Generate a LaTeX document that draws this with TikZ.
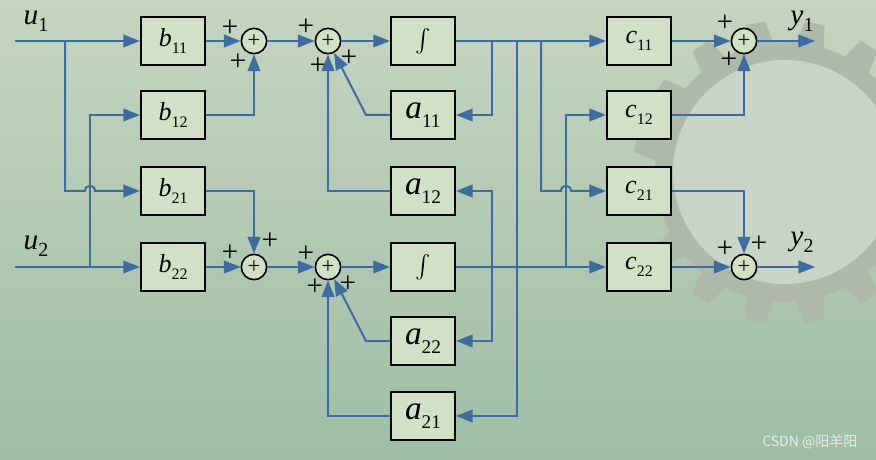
\documentclass[tikz,border=0pt]{standalone}
\usepackage{amsmath}
\usepackage{fontspec}
\setmainfont{Liberation Serif}
\newfontfamily\cjk{Noto Sans CJK SC}
\usetikzlibrary{arrows.meta}

\definecolor{bgtop}{RGB}{198,212,192}
\definecolor{bgbot}{RGB}{158,190,166}
\definecolor{gearring}{RGB}{174,185,171}
\definecolor{gearhole}{RGB}{200,212,197}
\definecolor{boxfill}{RGB}{210,225,198}
\definecolor{wireblue}{RGB}{62,108,158}

% gain label: letter with upright subscript
\newcommand{\gain}[3][12]{\textit{#2}\raisebox{-0.55ex}{\fontsize{#1}{#1}\selectfont #3}}

\begin{document}
\begin{tikzpicture}[x=0.75pt, y=-0.75pt,
      blk/.style={draw, fill=boxfill, line width=1.6pt, minimum width=48pt,
                  minimum height=35.5pt, inner sep=0pt, font=\fontsize{19.5}{20}\selectfont},
      ablk/.style={blk, font=\fontsize{25}{26}\selectfont},
      sum/.style={circle, draw, fill=boxfill, line width=1.2pt, minimum size=19pt,
                  inner sep=0pt, font=\fontsize{17}{17}\selectfont},
      sgn/.style={inner sep=0pt, font=\fontsize{22}{22}\selectfont},
      sig/.style={inner sep=0pt, font=\fontsize{22}{22}\selectfont},
      wire/.style={draw=wireblue, line width=1.5pt},
      >={Triangle[length=12.5pt, width=9.5pt]}]
    % background
    \shade[top color=bgtop, bottom color=bgbot] (0,0) rectangle (876,460);
    \begin{scope}
      \clip (0,0) rectangle (876,460);
      \begin{scope}[shift={(785,172)}]
        \fill[gearring] (0:130) \foreach \k in {0,...,15} {
          -- (\k*22.5+5:130) -- (\k*22.5+7.5:152) -- (\k*22.5+15:152)
          -- (\k*22.5+17.5:130) -- (\k*22.5+22.5:130)} -- cycle;
        \fill[gearhole] (0,0) circle[radius=112];
      \end{scope}
    \end{scope}
    \useasboundingbox (0,0) rectangle (876,460);

    % inputs and outputs
    \coordinate (u1) at (15,41);
    \coordinate (u2) at (15,267);
    \coordinate (y1) at (815,41);
    \coordinate (y2) at (815,267);
    \node[sig] (u1lbl) at (36,21) {\gain[15]{u}{1}};
    \node[sig] (u2lbl) at (36,246) {\gain[15]{u}{2}};
    \node[sig] (y1lbl) at (802,21) {\gain[15]{y}{1}};
    \node[sig] (y2lbl) at (802,242) {\gain[15]{y}{2}};

    % input gains
    \node[blk] (b11) at (173,41) {\gain{b}{11}};
    \node[blk] (b12) at (173,115) {\gain{b}{12}};
    \node[blk] (b21) at (173,191) {\gain{b}{21}};
    \node[blk] (b22) at (173,267) {\gain{b}{22}};

    % summing points
    \node[sum] (s1) at (254,41) {+};
    \node[sum] (s2) at (254,267) {+};
    \node[sum] (s3) at (328,41) {+};
    \node[sum] (s4) at (328,267) {+};
    \node[sum] (o1) at (744,41) {+};
    \node[sum] (o2) at (744,267) {+};

    % integrators and feedback
    \node[blk, font=\fontsize{17}{18}\selectfont] (i1) at (423,41) {$\int$};
    \node[blk, font=\fontsize{17}{18}\selectfont] (i2) at (423,267) {$\int$};
    \node[ablk] (a11) at (423,115) {\gain[14.5]{a}{11}};
    \node[ablk] (a12) at (423,191) {\gain[14.5]{a}{12}};
    \node[ablk] (a22) at (423,341) {\gain[14.5]{a}{22}};
    \node[ablk] (a21) at (423,416) {\gain[14.5]{a}{21}};

    % output gains
    \node[blk] (c11) at (639,41) {\gain{c}{11}};
    \node[blk] (c12) at (639,115) {\gain{c}{12}};
    \node[blk] (c21) at (639,191) {\gain{c}{21}};
    \node[blk] (c22) at (639,267) {\gain{c}{22}};

    % signs
    \node[sgn] (s1p1) at (230,28) {+};
    \node[sgn] (s1p2) at (238,62) {+};
    \node[sgn] (s2p1) at (230,253) {+};
    \node[sgn] (s2p2) at (270,241) {+};
    \node[sgn] (s3p1) at (306,27) {+};
    \node[sgn] (s3p2) at (318,66) {+};
    \node[sgn] (s3p3) at (349,58) {+};
    \node[sgn] (s4p1) at (306,254) {+};
    \node[sgn] (s4p2) at (315,287) {+};
    \node[sgn] (s4p3) at (348,284) {+};
    \node[sgn] (o1p1) at (725,23) {+};
    \node[sgn] (o1p2) at (729,60) {+};
    \node[sgn] (o2p1) at (725,249) {+};
    \node[sgn] (o2p2) at (759,244) {+};

    % branch points
    \coordinate (j1) at (65,41);
    \coordinate (j2) at (90,267);
    \coordinate (k1) at (90,191);
    \coordinate (p1) at (492,41);
    \coordinate (p2) at (517,41);
    \coordinate (p3) at (541,41);
    \coordinate (q1) at (492,267);
    \coordinate (q2) at (566,267);
    \coordinate (k2) at (566,191);
    \coordinate (f1) at (366,115);
    \coordinate (f2) at (366,341);

    \begin{scope}[every path/.style={wire}]
      \draw[->] (u1) -- (b11);
      \draw[->] (u2) -- (b22);
      \draw[->] (j1) -- (j1 |- k1) -- ([shift={(-5,0)}]k1)
        .. controls ([shift={(-5,-7)}]k1) and ([shift={(5,-7)}]k1) .. ([shift={(5,0)}]k1) -- (b21);
      \draw[->] (j2) |- (b12);
      \draw[->] (b11) -- (s1);
      \draw[->] (b12) -| (s1);
      \draw[->] (b22) -- (s2);
      \draw[->] (b21) -| (s2);
      \draw[->] (s1) -- (s3);
      \draw[->] (s2) -- (s4);
      \draw[->] (s3) -- (i1);
      \draw[->] (s4) -- (i2);
      \draw[->] (a11) -- (f1) -- (s3);
      \draw[->] (a12) -| (s3);
      \draw[->] (a22) -- (f2) -- (s4);
      \draw[->] (a21) -| (s4);
      \draw[->] (i1) -- (c11);
      \draw[->] (i2) -- (c22);
      \draw[->] (p1) |- (a11);
      \draw[->] (p2) |- (a21);
      \draw[->] (p3) -- (p3 |- k2) -- ([shift={(-5,0)}]k2)
        .. controls ([shift={(-5,-7)}]k2) and ([shift={(5,-7)}]k2) .. ([shift={(5,0)}]k2) -- (c21);
      \draw[->] (q1) |- (a12);
      \draw[->] (q1) |- (a22);
      \draw[->] (q2) |- (c12);
      \draw[->] (c11) -- (o1);
      \draw[->] (c12) -| (o1);
      \draw[->] (c22) -- (o2);
      \draw[->] (c21) -| (o2);
      \draw[->] (o1) -- (y1);
      \draw[->] (o2) -- (y2);
    \end{scope}

    \node[text=white!92!black, font=\cjk\fontsize{10.5}{11}\selectfont, anchor=east] (mark) at (862,442) {CSDN @阳羊阳};
  \end{tikzpicture}
\end{document}
